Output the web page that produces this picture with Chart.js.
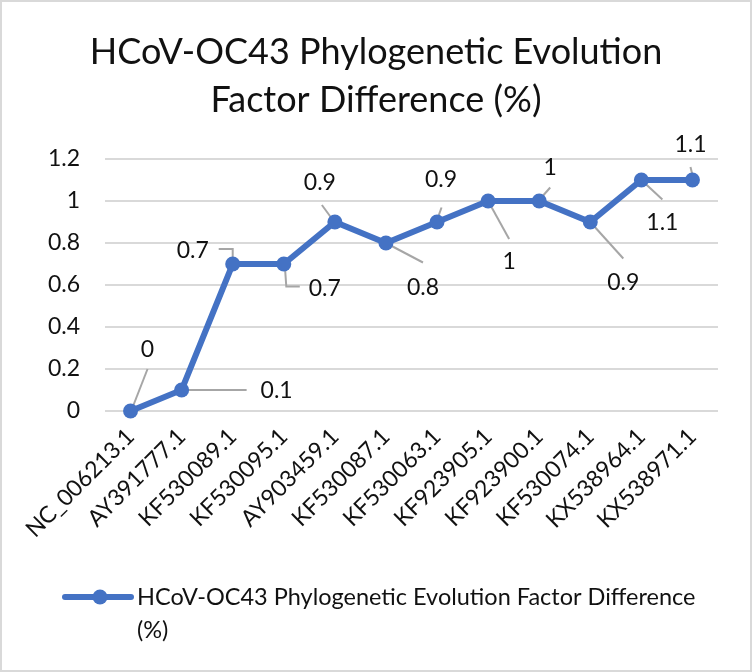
<!DOCTYPE html>
<html>
<head>
<meta charset="utf-8">
<script src="https://cdn.jsdelivr.net/npm/chart.js@4"></script>
<style>
  html, body { margin: 0; padding: 0; background: #fff; }
  canvas { display: block; }
</style>
</head>
<body>
<canvas id="chart" width="752" height="672"></canvas>
<script>
// Data
const categories = ['NC_006213.1', 'AY391777.1', 'KF530089.1', 'KF530095.1', 'AY903459.1', 'KF530087.1',
  'KF530063.1', 'KF923905.1', 'KF923900.1', 'KF530074.1', 'KX538964.1', 'KX538971.1'];
const values = [0, 0.1, 0.7, 0.7, 0.9, 0.8, 0.9, 1, 1, 0.9, 1.1, 1.1];
const seriesName = 'HCoV-OC43 Phylogenetic Evolution Factor Difference (%)';
const titleLines = ['HCoV-OC43 Phylogenetic Evolution', 'Factor Difference (%)'];

// Data label placement (text centre offset from the point, in px) and leader lines
const labelOffsets = [
  [17, -61], [95, 1], [-40, -13], [41, 25], [-15, -39], [37, 45],
  [4, -42], [21, 61], [11, -33], [33, 61], [21, 43], [-2, -35]
];
const leaderPaths = [
  [[1, -1], [17, -42]],
  [[0, 0], [65, 0]],
  [[0, -1], [0, -15], [-14, -15]],
  [[1, 1], [2.5, 22.5], [16, 22.5]],
  [[-2, -2], [-13, -17]],
  [[0, 0], [37, 19.5]],
  [[0, -2], [4.5, -14.5]],
  [[0, 0], [21, 38]],
  [[0, -1], [11, -13.5]],
  [[0, 0], [33, 36.5]],
  [[0, 0], [21, 19.5]],
  [[0, -5], [-2, -13]]
];

const FONT = 'Lato';
const BLUE = '#4472C4';
const TEXT = '#111';

const chromePlugin = {
  id: 'chrome',
  beforeDraw(chart) {
    const ctx = chart.ctx;
    ctx.save();
    ctx.fillStyle = '#fff';
    ctx.fillRect(0, 0, chart.width, chart.height);
    ctx.strokeStyle = '#D9D9D9';
    ctx.lineWidth = 2;
    ctx.strokeRect(1, 1, chart.width - 2, chart.height - 2);
    ctx.restore();
  },
  beforeDatasetsDraw(chart) {
    // leader lines, under the series
    const ctx = chart.ctx;
    const pts = chart.getDatasetMeta(0).data;
    ctx.save();
    ctx.strokeStyle = '#A6A6A6';
    ctx.lineWidth = 2;
    pts.forEach((p, i) => {
      const path = leaderPaths[i];
      ctx.beginPath();
      path.forEach(([dx, dy], k) => {
        if (k === 0) ctx.moveTo(p.x + dx, p.y + dy);
        else ctx.lineTo(p.x + dx, p.y + dy);
      });
      ctx.stroke();
    });
    ctx.restore();
  },
  afterDatasetsDraw(chart) {
    const ctx = chart.ctx;
    const pts = chart.getDatasetMeta(0).data;
    ctx.save();
    ctx.fillStyle = TEXT;
    ctx.font = `23px ${FONT}`;
    ctx.textAlign = 'center';
    ctx.textBaseline = 'middle';
    pts.forEach((p, i) => {
      const [dx, dy] = labelOffsets[i];
      ctx.fillText(String(values[i]), p.x + dx, p.y + dy);
    });
    ctx.restore();
  },
  afterDraw(chart) {
    const ctx = chart.ctx;
    ctx.save();
    // title
    ctx.fillStyle = TEXT;
    ctx.font = `36px ${FONT}`;
    ctx.textAlign = 'center';
    ctx.textBaseline = 'middle';
    ctx.fillText(titleLines[0], 376, 52);
    ctx.fillText(titleLines[1], 376, 100);

    // legend
    const lx = 65, ly = 597;
    ctx.strokeStyle = BLUE;
    ctx.lineWidth = 6;
    ctx.lineCap = 'round';
    ctx.beginPath();
    ctx.moveTo(lx, ly);
    ctx.lineTo(lx + 66, ly);
    ctx.stroke();
    ctx.fillStyle = BLUE;
    ctx.beginPath();
    ctx.arc(lx + 35, ly, 7.5, 0, Math.PI * 2);
    ctx.fill();

    ctx.fillStyle = TEXT;
    ctx.font = `23.5px ${FONT}`;
    ctx.textAlign = 'left';
    const words = seriesName.split(' ');
    const lines = [];
    let cur = '';
    words.forEach(w => {
      const test = cur ? cur + ' ' + w : w;
      if (ctx.measureText(test).width > 580 && cur) {
        lines.push(cur);
        cur = w;
      } else cur = test;
    });
    lines.push(cur);
    lines.forEach((t, i) => ctx.fillText(t, 137, ly + i * 33));
    ctx.restore();
  }
};

new Chart(document.getElementById('chart'), {
  type: 'line',
  data: {
    labels: categories,
    datasets: [{
      label: seriesName,
      data: values,
      borderColor: BLUE,
      backgroundColor: BLUE,
      borderWidth: 6,
      pointRadius: 7.5,
      pointHoverRadius: 7.5,
      pointBorderWidth: 0,
      pointBackgroundColor: BLUE,
      tension: 0,
      fill: false,
      clip: false
    }]
  },
  options: {
    responsive: false,
    animation: false,
    layout: { padding: { top: 159, right: 34, left: 0, bottom: 0 } },
    plugins: {
      legend: { display: false },
      title: { display: false },
      tooltip: { enabled: false }
    },
    scales: {
      x: {
        offset: true,
        grid: { display: false, drawTicks: false },
        border: { display: false },
        ticks: {
          color: TEXT,
          font: { family: FONT, size: 23 },
          minRotation: 45,
          maxRotation: 45,
          padding: 12
        },
        afterFit(scale) { scale.height = 261; }
      },
      y: {
        min: 0,
        max: 1.2,
        grid: { color: '#D9D9D9', lineWidth: 2, drawTicks: false },
        border: { display: false },
        ticks: {
          stepSize: 0.2,
          color: TEXT,
          font: { family: FONT, size: 23 },
          padding: 25,
          callback: v => String(+v.toFixed(1))
        },
        afterFit(scale) { scale.width = 105; }
      }
    }
  },
  plugins: [chromePlugin]
});
</script>
</body>
</html>
